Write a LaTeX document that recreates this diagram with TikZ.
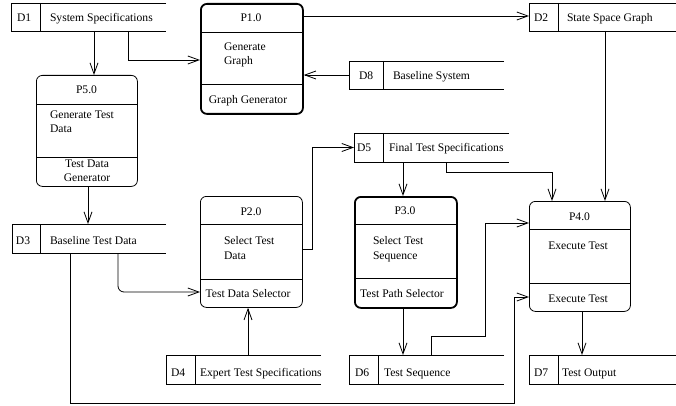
\documentclass[tikz,border=0pt]{standalone}
\usepackage{fontspec}
\setmainfont{Liberation Serif}
\usetikzlibrary{arrows.meta}

\tikzset{
  strk/.style={draw=black, line width=0.8pt},
  flow/.style={strk, -{Straight Barb[length=11pt,width=8pt]}},
  proc/.style={draw=black, line width=0.8pt, rounded corners=6pt, inner sep=0pt},
  mainproc/.style={proc, line width=1.8pt},
  lbl/.style={font=\fontsize{11.6}{14}\selectfont, inner sep=0pt, outer sep=0pt},
}

% data store: open on the right, with an id compartment
% #1 name, #2 left, #3 top, #4 right, #5 bottom, #6 divider x
\newcommand\dstore[6]{%
  \node[inner sep=0pt, outer sep=0pt, anchor=north west,
        minimum width={#4-#2}, minimum height={#5-#3}] (#1) at (#2,#3) {};
  \draw[strk] (#1.north east) -- (#1.north west) -- (#1.south west) -- (#1.south east);
  \draw[strk] (#6,0 |- #1.north) -- (#6,0 |- #1.south);
}

% process box: rounded, split into three bands
% [#1 style], #2 name, #3 left, #4 top, #5 right, #6 bottom, #7 first divider y, #8 second divider y
\newcommand\procbox[8][proc]{%
  \node[#1, anchor=north west,
        minimum width={#5-#3}, minimum height={#6-#4}] (#2) at (#3,#4) {};
  \draw[strk] (#2.west |- 0,#7) -- (#2.east |- 0,#7);
  \draw[strk] (#2.west |- 0,#8) -- (#2.east |- 0,#8);
}

\begin{document}
\begin{tikzpicture}[x=1pt,y=-1pt]
\useasboundingbox (0,0) rectangle (676,406);

% ---- data stores
\dstore{d1}{11}{3}{166}{31}{40}
\node[lbl, anchor=base west] (d1id) at (17,22) {D1};
\node[lbl, anchor=base west] (d1txt) at (50,22) {System Specifications};

\dstore{d2}{529}{3}{676}{31}{558}
\node[lbl, anchor=base west] (d2id) at (534,22) {D2};
\node[lbl, anchor=base west] (d2txt) at (567,22) {State Space Graph};

\dstore{d8}{349}{61}{504}{89}{383}
\node[lbl, anchor=base west] (d8id) at (359,80) {D8};
\node[lbl, anchor=base west] (d8txt) at (393,80) {Baseline System};

\dstore{d5}{354}{133}{509}{162}{383}
\node[lbl, anchor=base west] (d5id) at (357,152) {D5};
\node[lbl, anchor=base west] (d5txt) at (389,152) {Final Test Specifications};

\dstore{d3}{12}{224}{166}{253}{40}
\node[lbl, anchor=base west] (d3id) at (16,244) {D3};
\node[lbl, anchor=base west] (d3txt) at (50,244) {Baseline Test Data};

\dstore{d4}{166}{355}{321}{384}{195}
\node[lbl, anchor=base west] (d4id) at (171,376) {D4};
\node[lbl, anchor=base west] (d4txt) at (200,376) {Expert Test Specifications};

\dstore{d6}{349}{355}{504}{384}{378}
\node[lbl, anchor=base west] (d6id) at (355,376) {D6};
\node[lbl, anchor=base west] (d6txt) at (384,376) {Test Sequence};

\dstore{d7}{529}{355}{676}{384}{558}
\node[lbl, anchor=base west] (d7id) at (534,376) {D7};
\node[lbl, anchor=base west] (d7txt) at (562,376) {Test Output};

% ---- processes
\procbox[mainproc]{p1}{200}{3}{302}{113}{32}{84}
\node[lbl, anchor=base] (p1id) at (251,22) {P1.0};
\node[lbl, anchor=base west] (p1a) at (224,51) {Generate};
\node[lbl, anchor=base west] (p1b) at (224,65) {Graph};
\node[lbl, anchor=base] (p1c) at (248,104) {Graph Generator};

\procbox{p5}{36}{75}{137}{186}{104}{157}
\node[lbl, anchor=base] (p5id) at (86.5,94) {P5.0};
\node[lbl, anchor=base west] (p5a) at (50,119) {Generate Test};
\node[lbl, anchor=base west] (p5b) at (50,133) {Data};
\node[lbl, anchor=base] (p5c) at (87,167) {Test Data};
\node[lbl, anchor=base] (p5d) at (87,181) {Generator};

\procbox{p2}{200}{196}{302}{307}{224}{279}
\node[lbl, anchor=base] (p2id) at (251,215) {P2.0};
\node[lbl, anchor=base west] (p2a) at (224,244) {Select Test};
\node[lbl, anchor=base west] (p2b) at (224,259) {Data};
\node[lbl, anchor=base] (p2c) at (248,297) {Test Data Selector};

\procbox[mainproc]{p3}{354}{196}{456}{307}{224}{278}
\node[lbl, anchor=base] (p3id) at (405,214) {P3.0};
\node[lbl, anchor=base west] (p3a) at (373,244) {Select Test};
\node[lbl, anchor=base west] (p3b) at (373,259) {Sequence};
\node[lbl, anchor=base] (p3c) at (402,297) {Test Path Selector};

\procbox{p4}{529}{201}{630}{311}{229}{283}
\node[lbl, anchor=base] (p4id) at (579.5,220) {P4.0};
\node[lbl, anchor=base] (p4a) at (578,249) {Execute Test};
\node[lbl, anchor=base] (p4b) at (578,302) {Execute Test};

% ---- data flows
\draw[flow] (94,0 |- d1.south) -- (94,0 |- p5.north);
\draw[flow] (128,0 |- d1.south) |- (p1.west |- 0,60);
\draw[flow] (p1.east |- 0,16) -- (d2.west |- 0,16);
\draw[flow] (d8.west) -- (p1.east |- d8.west);
\draw[flow] (88,0 |- p5.south) -- (88,0 |- d3.north);
\draw[flow, rounded corners=6pt] (118,0 |- d3.south) |- (p2.west |- 0,292);
\draw[flow] (70,0 |- d3.south) |- (514,403) |- (p4.west |- 0,297);
\draw[flow] (248,0 |- d4.north) -- (248,0 |- p2.south);
\draw[flow] (p2.east |- 0,249) -| (312,0 |- d5.west) -- (d5.west);
\draw[flow] (403,0 |- d5.south) -- (403,0 |- p3.north);
\draw[flow] (446,0 |- d5.south) |- (552,172) -- (552,0 |- p4.north);
\draw[flow] (605,0 |- d2.south) -- (605,0 |- p4.north);
\draw[flow] (403,0 |- p3.south) -- (403,0 |- d6.north);
\draw[flow] (431,0 |- d6.north) |- (485,336) |- (p4.west |- 0,223);
\draw[flow] (582,0 |- p4.south) -- (582,0 |- d7.north);
\end{tikzpicture}
\end{document}
